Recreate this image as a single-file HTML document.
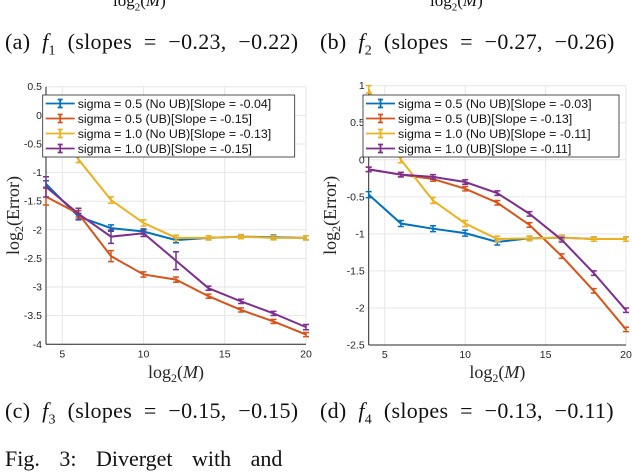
<!DOCTYPE html>
<html><head><meta charset="utf-8"><style>
body{margin:0;background:#fff;width:632px;height:452px;overflow:hidden;position:relative;font-family:"Liberation Serif",serif}
.t{position:absolute;white-space:nowrap;color:#111}
.c{font-size:22px;letter-spacing:0.3px;word-spacing:6px}
</style></head><body>
<div class="t" style="left:113px;top:-9px;font-size:17px">log<sub style="font-size:11px">2</sub>(<i>M</i>)</div>
<div class="t" style="left:430px;top:-9px;font-size:17px">log<sub style="font-size:11px">2</sub>(<i>M</i>)</div>
<div class="t c" style="left:5px;top:29px">(a) <i>f</i><sub style="font-size:14px">1</sub> (slopes = −0.23, −0.22)</div>
<div class="t c" style="left:320px;top:29px">(b) <i>f</i><sub style="font-size:14px">2</sub> (slopes = −0.27, −0.26)</div>
<div class="t c" style="left:5px;top:398px">(c) <i>f</i><sub style="font-size:14px">3</sub> (slopes = −0.15, −0.15)</div>
<div class="t c" style="left:320px;top:398px">(d) <i>f</i><sub style="font-size:14px">4</sub> (slopes = −0.13, −0.11)</div>
<div class="t" style="left:5px;top:446px;font-size:22px;word-spacing:14px">Fig. 3: Diverget  with and</div>
<svg id="s" width="632" height="452" style="position:absolute;left:0;top:0"></svg>
<script>
const xs=[4,6,8,10,12,14,16,18,20];
const leftBlue=[-1.2,-1.77,-1.97,-2.03,-2.18,-2.14,-2.12,-2.13,-2.14];
const leftOrange=[-1.42,-1.72,-2.46,-2.78,-2.87,-3.16,-3.40,-3.60,-3.83];
const leftYellow=[0.2,-0.77,-1.48,-1.88,-2.14,-2.14,-2.12,-2.14,-2.14];
const leftPurple=[-1.25,-1.72,-2.12,-2.06,-2.54,-3.02,-3.25,-3.46,-3.70];
const leftErr=[[0.03,0.03,0.03,0.02,0.02,0.01,0.01,0.01,0.01],[0.12,0.03,0.07,0.02,0.02,0.01,0.01,0.01,0.01],[0.03,0.03,0.03,0.03,0.02,0.01,0.01,0.01,0.01],[0.15,0.07,0.09,0.03,0.13,0.01,0.01,0.01,0.02]];
const rightBlue=[-0.47,-0.86,-0.93,-0.99,-1.11,-1.06,-1.05,-1.07,-1.07];
const rightOrange=[-0.13,-0.2,-0.26,-0.39,-0.58,-0.88,-1.3,-1.77,-2.29];
const rightYellow=[0.95,0.0,-0.55,-0.86,-1.07,-1.06,-1.05,-1.07,-1.07];
const rightPurple=[-0.13,-0.2,-0.23,-0.3,-0.45,-0.73,-1.08,-1.53,-2.03];
const rightErr=[[0.02,0.02,0.02,0.02,0.02,0.01,0.01,0.01,0.01],[0.01,0.01,0.01,0.01,0.01,0.01,0.01,0.01,0.01],[0.03,0.02,0.02,0.02,0.02,0.01,0.01,0.01,0.01],[0.01,0.01,0.01,0.01,0.01,0.01,0.01,0.01,0.01]];
const xTicks=[5,10,15,20];
const leftYTicks=[0.5,0,-0.5,-1,-1.5,-2,-2.5,-3,-3.5,-4];
const rightYTicks=[1,0.5,0,-0.5,-1,-1.5,-2,-2.5];
const leftLabels=["sigma = 0.5 (No UB)[Slope = -0.04]","sigma = 0.5 (UB)[Slope = -0.15]","sigma = 1.0 (No UB)[Slope = -0.13]","sigma = 1.0 (UB)[Slope = -0.15]"];
const rightLabels=["sigma = 0.5 (No UB)[Slope = -0.03]","sigma = 0.5 (UB)[Slope = -0.13]","sigma = 1.0 (No UB)[Slope = -0.11]","sigma = 1.0 (UB)[Slope = -0.11]"];
const colors=["#0072BD","#D95319","#EDB120","#7E2F8E"];
const NS="http://www.w3.org/2000/svg";
const svg=document.getElementById('s');
function mk(t,a,p){const e=document.createElementNS(NS,t);for(const k in a)e.setAttribute(k,a[k]);(p||svg).appendChild(e);return e;}
function chart(o){
 const g=mk('g',{});
 
 
 const X=v=>o.x0+(v-4)/16*(o.x1-o.x0);
 const Y=v=>o.y0+(o.ymax-v)/(o.ymax-o.ymin)*(o.y1-o.y0);
 mk('rect',{x:o.x0,y:o.y0,width:o.x1-o.x0,height:o.y1-o.y0,fill:'#fff'},g);
 xTicks.forEach(t=>{mk('line',{x1:X(t),x2:X(t),y1:o.y0,y2:o.y1,stroke:'#e6e6e6'},g);
  const tx=mk('text',{x:X(t),y:o.y1+13,'font-size':10.5,'text-anchor':'middle','font-family':'Liberation Sans, sans-serif',fill:'#262626'},g);tx.textContent=t;
  });
 o.yt.forEach(t=>{mk('line',{x1:o.x0,x2:o.x1,y1:Y(t),y2:Y(t),stroke:'#e6e6e6'},g);
  const tx=mk('text',{x:o.x0-4,y:Y(t)+3.5,'font-size':10.5,'text-anchor':'end','font-family':'Liberation Sans, sans-serif',fill:'#262626'},g);tx.textContent=t;
  });
 mk('line',{x1:o.x0,x2:o.x0,y1:o.y0,y2:o.y1,stroke:'#262626'},g);
 mk('line',{x1:o.x0,x2:o.x1,y1:o.y1,y2:o.y1,stroke:'#262626'},g);
 o.series.forEach((d,i)=>{
  const pts=d.map((v,j)=>X(xs[j])+','+Y(v)).join(' ');
  const pl=mk('polyline',{points:pts,fill:'none',stroke:colors[i],'stroke-width':2},g);
  
  
  d.forEach((v,j)=>{const x=X(xs[j]),e=o.err[i][j];
   mk('path',{d:`M${x},${Y(v+e)-1.5}V${Y(v-e)+1.5}M${x-3},${Y(v+e)-1.5}H${x+3}M${x-3},${Y(v-e)+1.5}H${x+3}`,stroke:colors[i],'stroke-width':1.5,fill:'none'},g);});
 });
 const lg=mk('g',{},g);
 
 
 mk('rect',{x:o.lx,y:95,width:o.lw,height:62,fill:'#fff',stroke:'#262626','stroke-width':0.8},lg);
 o.labels.forEach((l,i)=>{const y=103.5+i*15;
  mk('path',{d:`M${o.lx+3},${y}H${o.lx+32}M${o.lx+17.5},${y-4}V${y+4}M${o.lx+15},${y-4}H${o.lx+20}M${o.lx+15},${y+4}H${o.lx+20}`,stroke:colors[i],'stroke-width':1.8,fill:'none'},lg);
  const t=mk('text',{x:o.lx+35,y:y+4.5,'font-size':12.4,'font-family':'Liberation Sans, sans-serif',fill:'#111'},lg);t.textContent=l;
  });
 const xl=mk('text',{x:(o.x0+o.x1)/2,y:378,'font-size':18,'text-anchor':'middle','font-family':'Liberation Serif, serif',fill:'#262626'},g);
 xl.innerHTML='log<tspan font-size="12" dy="4">2</tspan><tspan dy="-4">(</tspan><tspan font-style="italic">M</tspan>)';
 
 const yl=mk('text',{x:0,y:0,'font-size':18,'text-anchor':'middle','font-family':'Liberation Serif, serif',fill:'#262626',transform:`translate(${o.ylx},${(o.y0+o.y1)/2}) rotate(-90)`},g);
 yl.innerHTML='log<tspan font-size="12" dy="4">2</tspan><tspan dy="-4">(Error)</tspan>';
 
}
chart({name:'chart-f3',x0:46,x1:306,y0:86.7,y1:344.3,ymax:0.5,ymin:-4,yt:leftYTicks,series:[leftBlue,leftOrange,leftYellow,leftPurple],err:leftErr,labels:leftLabels,lx:42.7,lw:252,ylx:19});
chart({name:'chart-f4',x0:368.7,x1:626,y0:85.7,y1:345,ymax:1,ymin:-2.5,yt:rightYTicks,series:[rightBlue,rightOrange,rightYellow,rightPurple],err:rightErr,labels:rightLabels,lx:363,lw:256,ylx:336});
</script>
</body></html>
